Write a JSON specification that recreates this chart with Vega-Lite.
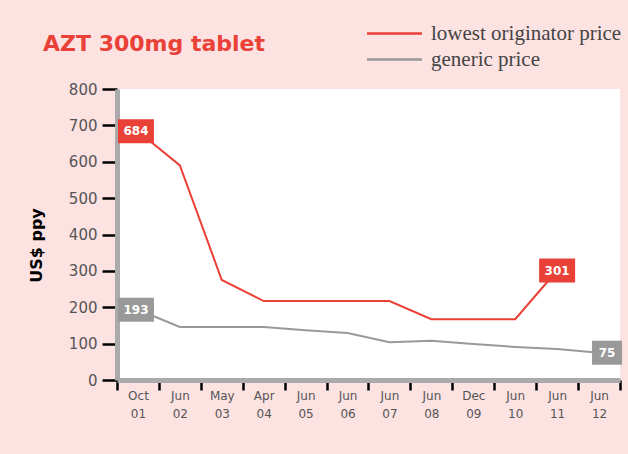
{
  "$schema": "https://vega.github.io/schema/vega-lite/v6.json",
  "autosize": {"type": "none"},
  "width": 503,
  "height": 291,
  "padding": {"left": 117, "top": 89, "right": 8, "bottom": 74},
  "background": "#fde2e2",
  "config": {"view": {"fill": "white", "stroke": null}},
  "title": {
    "text": "AZT 300mg tablet",
    "anchor": "start",
    "frame": "group",
    "dx": -74,
    "dy": 35,
    "font": "DejaVu Sans",
    "fontSize": 22,
    "fontWeight": "bold",
    "color": "#e94138",
    "offset": 0
  },
  "data": {
    "values": [
      {"date": "Oct 01", "series": "lowest originator price", "price": 684},
      {"date": "Jun 02", "series": "lowest originator price", "price": 590},
      {"date": "May 03", "series": "lowest originator price", "price": 275},
      {"date": "Apr 04", "series": "lowest originator price", "price": 217},
      {"date": "Jun 05", "series": "lowest originator price", "price": 217},
      {"date": "Jun 06", "series": "lowest originator price", "price": 217},
      {"date": "Jun 07", "series": "lowest originator price", "price": 217},
      {"date": "Jun 08", "series": "lowest originator price", "price": 167},
      {"date": "Dec 09", "series": "lowest originator price", "price": 167},
      {"date": "Jun 10", "series": "lowest originator price", "price": 167},
      {"date": "Jun 11", "series": "lowest originator price", "price": 301},
      {"date": "Oct 01", "series": "generic price", "price": 193},
      {"date": "Jun 02", "series": "generic price", "price": 146},
      {"date": "May 03", "series": "generic price", "price": 146},
      {"date": "Apr 04", "series": "generic price", "price": 146},
      {"date": "Jun 05", "series": "generic price", "price": 137},
      {"date": "Jun 06", "series": "generic price", "price": 129},
      {"date": "Jun 07", "series": "generic price", "price": 104},
      {"date": "Jun 08", "series": "generic price", "price": 108},
      {"date": "Dec 09", "series": "generic price", "price": 99},
      {"date": "Jun 10", "series": "generic price", "price": 91},
      {"date": "Jun 11", "series": "generic price", "price": 85},
      {"date": "Jun 12", "series": "generic price", "price": 75}
    ]
  },
  "encoding": {
    "x": {
      "field": "date",
      "type": "ordinal",
      "bandPosition": 0.5,
      "scale": {
        "type": "band",
        "domain": ["Oct 01", "Jun 02", "May 03", "Apr 04", "Jun 05", "Jun 06", "Jun 07", "Jun 08", "Dec 09", "Jun 10", "Jun 11", "Jun 12"],
        "paddingInner": 0,
        "paddingOuter": 0
      },
      "axis": {
        "title": null,
        "labelAngle": 0,
        "labelExpr": "split(datum.label, ' ')",
        "tickBand": "extent",
        "grid": false,
        "domainColor": "#aaaaaa",
        "domainWidth": 5,
        "tickColor": "black",
        "tickWidth": 2.5,
        "tickSize": 10,
        "labelFont": "DejaVu Sans",
        "labelFontSize": 12,
        "labelColor": "#555555",
        "labelLineHeight": 18,
        "labelPadding": 0
      }
    },
    "y": {
      "field": "price",
      "type": "quantitative",
      "scale": {"domain": [0, 800]},
      "axis": {
        "values": [0, 100, 200, 300, 400, 500, 600, 700, 800],
        "grid": false,
        "domainColor": "#aaaaaa",
        "domainWidth": 5,
        "tickColor": "black",
        "tickWidth": 2.5,
        "tickSize": 15,
        "labelFont": "DejaVu Sans",
        "labelFontSize": 15,
        "labelColor": "#555555",
        "labelPadding": 5,
        "title": "US$ ppy",
        "titleFont": "DejaVu Sans",
        "titleFontWeight": "bold",
        "titleFontSize": 16,
        "titleColor": "black",
        "titleX": -81,
        "titleY": 156,
        "titleAngle": 270,
        "titleBaseline": "middle",
        "titleAlign": "center"
      }
    }
  },
  "layer": [
    {
      "mark": {"type": "line", "strokeWidth": 2},
      "encoding": {
        "color": {
          "field": "series",
          "type": "nominal",
          "scale": {"domain": ["lowest originator price", "generic price"], "range": ["#e94138", "#999999"]},
          "legend": {
            "orient": "none",
            "legendX": 265,
            "legendY": -68,
            "direction": "vertical",
            "title": null,
            "symbolType": "M-2.5,0L2.5,0",
            "symbolSize": 484,
            "symbolStrokeWidth": 2.5,
            "labelFont": "Liberation Serif",
            "labelFontSize": 21,
            "labelColor": "#444444",
            "labelOffset": 24,
            "labelLimit": 0,
            "rowPadding": 3,
            "padding": 0
          }
        }
      }
    },
    {
      "transform": [{"filter": "datum.date == 'Oct 01'"}],
      "layer": [
        {
          "mark": {"type": "point", "filled": true, "opacity": 1, "strokeWidth": 0, "shape": "M-1,-0.667L1,-0.667L1,0.667L-1,0.667Z", "size": 1296, "xOffset": -2},
          "encoding": {
            "fill": {"field": "series", "type": "nominal", "scale": {"domain": ["lowest originator price", "generic price"], "range": ["#e94138", "#999999"]}, "legend": null}
          }
        },
        {
          "mark": {"type": "text", "color": "white", "font": "DejaVu Sans", "fontSize": 12, "fontWeight": "bold", "xOffset": -2},
          "encoding": {"text": {"field": "price", "type": "quantitative"}}
        }
      ]
    },
    {
      "transform": [{"filter": "datum.date == 'Jun 11' && datum.series == 'lowest originator price'"}],
      "layer": [
        {
          "mark": {"type": "point", "filled": true, "opacity": 1, "strokeWidth": 0, "shape": "M-1,-0.667L1,-0.667L1,0.667L-1,0.667Z", "size": 1296},
          "encoding": {
            "fill": {"field": "series", "type": "nominal", "scale": {"domain": ["lowest originator price", "generic price"], "range": ["#e94138", "#999999"]}, "legend": null}
          }
        },
        {
          "mark": {"type": "text", "color": "white", "font": "DejaVu Sans", "fontSize": 12, "fontWeight": "bold"},
          "encoding": {"text": {"field": "price", "type": "quantitative"}}
        }
      ]
    },
    {
      "transform": [{"filter": "datum.date == 'Jun 12'"}],
      "layer": [
        {
          "mark": {"type": "point", "filled": true, "opacity": 1, "strokeWidth": 0, "shape": "M-1,-0.8L1,-0.8L1,0.8L-1,0.8Z", "size": 900, "xOffset": 8},
          "encoding": {
            "fill": {"field": "series", "type": "nominal", "scale": {"domain": ["lowest originator price", "generic price"], "range": ["#e94138", "#999999"]}, "legend": null}
          }
        },
        {
          "mark": {"type": "text", "color": "white", "font": "DejaVu Sans", "fontSize": 12, "fontWeight": "bold", "xOffset": 8},
          "encoding": {"text": {"field": "price", "type": "quantitative"}}
        }
      ]
    }
  ]
}
